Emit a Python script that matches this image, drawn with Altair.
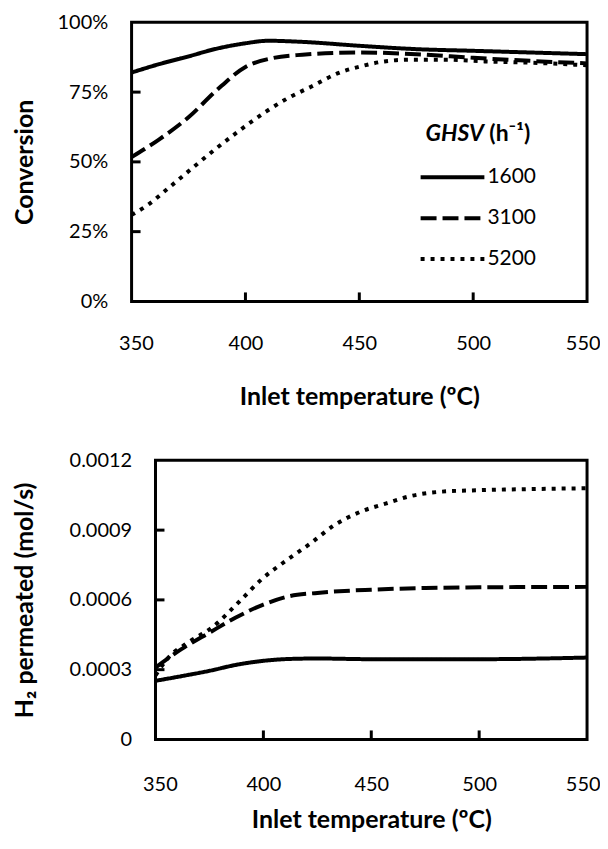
import altair as alt
import pandas as pd

FONT = "Lato"
series = ["1600", "3100", "5200"]

# ---- Conversion (top panel) ----
conv_x_1600 = [350, 362, 375, 387, 400, 410, 425, 450, 475, 500, 525, 550]
conv_y_1600 = [0.82, 0.85, 0.878, 0.905, 0.925, 0.934, 0.93, 0.916, 0.904, 0.898, 0.892, 0.886]
conv_x_3100 = [350, 362, 375, 387, 400, 412, 425, 450, 475, 500, 525, 550]
conv_y_3100 = [0.517, 0.58, 0.66, 0.754, 0.84, 0.872, 0.884, 0.892, 0.886, 0.873, 0.862, 0.853]
conv_x_5200 = [350, 357, 366, 377, 387, 397, 409, 419, 429, 441, 451, 461, 472, 488, 505, 530, 550]
conv_y_5200 = [0.31, 0.345, 0.405, 0.48, 0.547, 0.61, 0.68, 0.73, 0.77, 0.819, 0.843, 0.86, 0.866,
               0.866, 0.86, 0.854, 0.846]

# ---- H2 permeated (bottom panel) ----
h2_x_1600 = [350, 362, 375, 387, 400, 412, 425, 450, 500, 550]
h2_y_1600 = [0.000252, 0.000272, 0.000295, 0.00032, 0.000338, 0.000346, 0.000348, 0.000345,
             0.000345, 0.000352]
h2_x_3100 = [350, 362, 375, 387, 400, 412, 425, 450, 475, 500, 550]
h2_y_3100 = [0.000309, 0.000388, 0.000459, 0.000523, 0.00058, 0.000616, 0.00063, 0.000644,
             0.000651, 0.000654, 0.000656]
h2_x_5200 = [350, 356, 365, 376, 389, 399, 411, 422, 433, 445, 457, 468, 482, 501, 521, 550]
h2_y_5200 = [0.000275, 0.000352, 0.000416, 0.00048, 0.000594, 0.000687, 0.000772, 0.000844,
             0.000922, 0.000979, 0.001015, 0.001046, 0.001065, 0.001072, 0.001076, 0.00108]

x_ticks = [350, 400, 450, 500, 550]
x_inner_ticks = [400, 450, 500]
conv_ticks = [0, 0.25, 0.5, 0.75, 1.0]
conv_inner_ticks = [0.25, 0.5, 0.75]
h2_ticks = [0, 0.0003, 0.0006, 0.0009, 0.0012]
h2_inner_ticks = [0.0003, 0.0006, 0.0009]
x_domain = [350, 550]

legend_title_parts = ["GHSV", "(h⁻¹)"]


def make_df(xs_list, ys_list):
    rows = []
    for s, xs, ys in zip(series, xs_list, ys_list):
        for x, y in zip(xs, ys):
            rows.append({"T": x, "V": y, "GHSV": s})
    return pd.DataFrame(rows)


df_conv = make_df([conv_x_1600, conv_x_3100, conv_x_5200], [conv_y_1600, conv_y_3100, conv_y_5200])
df_h2 = make_df([h2_x_1600, h2_x_3100, h2_x_5200], [h2_y_1600, h2_y_3100, h2_y_5200])

dash_scale = alt.Scale(domain=series, range=[[1, 0], [16, 6], [4, 6]])
W, H = 457, 280
SHIFT = 24  # bottom panel plot area starts further right


def panel(df, ydomain, yticks, yinner, ytitle, yfmt_expr, label_pad, title_pad, ytitle_pad,
          legend, shift):
    xscale = alt.Scale(domain=x_domain, nice=False, zero=False, range=[shift, W])
    xenc = alt.X("T:Q", scale=xscale,
                 axis=alt.Axis(values=x_ticks, title="Inlet temperature (ºC)", ticks=False,
                               domain=False, grid=False, labelPadding=label_pad,
                               labelFlush=True, labelFlushOffset=13,
                               titlePadding=title_pad))
    yenc = alt.Y("V:Q", scale=alt.Scale(domain=ydomain, nice=False),
                 axis=alt.Axis(values=yticks, title=ytitle, ticks=False, domain=False,
                               grid=False, labelPadding=24, labelExpr=yfmt_expr,
                               titlePadding=ytitle_pad, offset=-shift))
    if legend:
        dash = alt.StrokeDash("GHSV:N", scale=dash_scale,
                              legend=alt.Legend(orient="none", legendX=288, legendY=136.25,
                                                title=None, symbolType="stroke",
                                                symbolSize=4096, symbolStrokeWidth=4,
                                                symbolStrokeColor="black", labelFont=FONT,
                                                labelFontSize=21, labelColor="black",
                                                labelOffset=1, clipHeight=38.5, rowPadding=2,
                                                padding=0))
    else:
        dash = alt.StrokeDash("GHSV:N", scale=dash_scale, legend=None)
    lines = alt.Chart(df).mark_line(color="black", strokeWidth=4, interpolate="monotone").encode(
        x=xenc, y=yenc, strokeDash=dash)
    frame = alt.Chart(pd.DataFrame({"T": [x_domain[0]], "T2": [x_domain[1]],
                                    "V": [ydomain[0]], "V2": [ydomain[1]]})).mark_rect(
        fillOpacity=0, stroke="black", strokeWidth=3).encode(
        x=xenc, x2="T2:Q", y=yenc, y2="V2:Q")
    yt = alt.Chart(pd.DataFrame({"V": yinner})).mark_tick(
        orient="horizontal", color="black", size=9, thickness=3, opacity=1).encode(
        y=yenc, x=alt.value(shift + 4.5))
    xt = alt.Chart(pd.DataFrame({"T": x_inner_ticks})).mark_tick(
        orient="vertical", color="black", size=9, thickness=3, opacity=1).encode(
        x=xenc, y=alt.value(H - 4.5))
    layers = [lines, frame, yt, xt]
    if legend:
        t1 = alt.Chart(pd.DataFrame({"t": [legend_title_parts[0]]})).mark_text(
            font=FONT, fontSize=23, fontWeight="bold", fontStyle="italic", align="left",
            baseline="middle", color="black").encode(text="t:N", x=alt.value(295), y=alt.value(112))
        t2 = alt.Chart(pd.DataFrame({"t": [legend_title_parts[1]]})).mark_text(
            font=FONT, fontSize=23, fontWeight="bold", align="left",
            baseline="middle", color="black").encode(text="t:N", x=alt.value(359), y=alt.value(112))
        layers += [t1, t2]
    return alt.layer(*layers).properties(width=W, height=H)


top = panel(df_conv, [0, 1], conv_ticks, conv_inner_ticks, "Conversion",
            "format(datum.value, '.0%')", 32, 31.5, 20, True, 0)
bottom = panel(df_h2, [0, 0.0012], h2_ticks, h2_inner_ticks, "H₂ permeated (mol/s)",
               "datum.value == 0 ? '0' : format(datum.value, '.4f')", 35, 13.5, 32, False, SHIFT)

chart = alt.vconcat(top, bottom, spacing=40.5).properties(
    padding={"left": 4, "top": 3, "right": 0, "bottom": 0}
).configure_view(stroke=None).configure_axis(
    labelFont=FONT, labelFontSize=20, labelColor="black",
    titleFont=FONT, titleFontSize=25, titleFontWeight="bold", titleColor="black"
)

chart.save("out.html", embed_options={"renderer": "svg", "actions": False})
